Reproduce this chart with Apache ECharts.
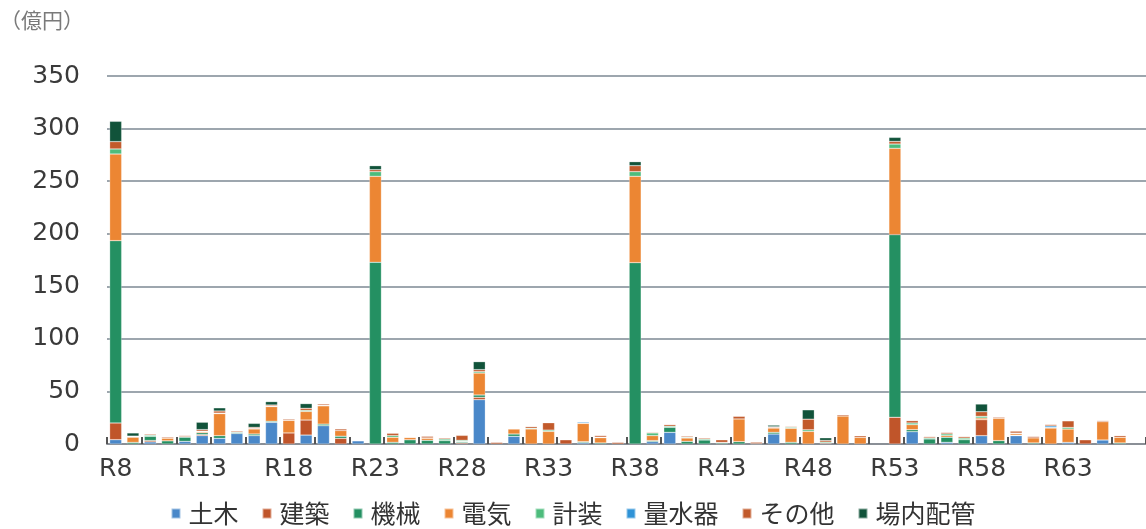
<!DOCTYPE html>
<html>
<head>
<meta charset="utf-8">
<style>
  html, body { margin: 0; padding: 0; background: #fff; }
  #chart { width: 1146px; height: 529px; }
</style>
<script src="https://cdn.jsdelivr.net/npm/echarts@6/dist/echarts.min.js"></script>
</head>
<body>
<div id="chart"></div>
<script>
// categories R8 .. R67
const categories = [];
for (let n = 8; n <= 67; n++) categories.push('R' + n);

const seriesNames = ['土木', '建築', '機械', '電気', '計装', '量水器', 'その他', '場内配管'];
const colors = ['#4a88c9', '#c0552a', '#249062', '#ec8633', '#4dbc7c', '#2f93d7', '#c25a2b', '#11533a'];

// values (億円), one entry per category
const doboku = [4.1,0,2,0,2.5,8,5.4,10,8,20.6, 0,8.5,17.4,0,3,0,0,0,0,0, 0,42.2,0,7.3,0,0,0,1.2,0,0, 0,2.2,11.1,0,0,0,0,0,9.5,0, 0,0,0,0,0,0,11.7,0,1.6,0, 7.9,0,7.9,0,0,1.5,0,3.8,0,0];
const kenchiku = [15.9,0,1.3,0,0,1,0,0,0,0, 10.5,14.3,0,5.4,0,0,0,0,0,0, 1,2.2,0,0,0,0,4,0,0,0, 0,0,0,0,0,0,0,0.3,0,0, 0,0.8,0,0,0,25.4,0,0,0,0, 15.2,0,0.5,0,0,0,4,0,0,0];
const kikai = [173.4,1.5,4,3,4,1.7,2.5,1,1.5,1, 0,0,1.5,2,0,172.8,1.6,4,3.5,3.2, 1,2.2,0,2.2,0,0,0,1,1,0, 172.5,1,4.8,2.5,3.8,1,2.2,0,1.6,1.6, 0,0,0,0,0,173.7,1.9,4.8,4.8,4.1, 0,3.2,0,1,0,0,0,0,1,0];
const denki = [82.4,5,0,2.5,0,1,21,0,4.8,14, 12,8.2,17.4,5.4,0,81.8,4.8,2.2,2,0, 0.5,20.9,0,4.8,14.3,12,0,17.4,5,0, 82.1,4.8,0,3.2,0,0,21.6,0,4.1,13.3, 12,0,26.6,6.3,0,82.1,4.8,0,1.6,0, 1.6,21.2,1.5,4.8,15.2,12.7,0,17.4,5.4,0];
const keiso = [4.8,0.5,1,0,0.5,0.5,0.5,0.5,0.5,0.5, 0.5,1,0.5,0,0,4.4,1.6,0,0.3,1.5, 1,1.3,0,0,0.7,1.2,0,0.5,0.5,0, 4.4,2.5,1,0.7,1,0.5,0,0,0.5,1, 1.5,1,0,0,0,4.1,1.6,1,1.6,1.5, 1.6,0,0.5,0,0.5,1.5,0,0,0,0];
const ryosuiki = [0,0,0,0,0,0,0,0,0,0, 0,0,0,0,0,0,0,0,0,0, 0,0,0,0,0,0,0,1,0,0, 0,0,0,0,0,0,0,0,0,0, 0,0,0,0,0,0,0,0,0,0, 0,0,0,0,1.5,0,0,0,0,0];
const sonota = [7,0.5,1,1,1,1.5,2,1,1,1, 1,2,1.2,1.5,0.5,1.9,2.2,0.3,1.5,1, 4.7,1.9,1.5,0.3,1.5,7,0,0.5,1.5,1.5, 5.7,0.7,1.5,1,1,2.5,2.5,1.4,0.7,0.7, 10.1,1.6,1.2,1.5,0,2.5,2.2,1.2,1.3,1.4, 4.4,1,1.8,1.3,1.3,6.3,0,1,1.5,0];
const jonaiHaikan = [19.3,3,0,0,0,7,3,0,3.8,3.2, 0,4.4,0,0,0,3.8,0,0,0,0, 0,7.6,0,0,0,0,0,0,0,0, 3.8,0,0,0,0,0,0,0,1.5,0, 8.9,2.5,0,0,0,3.8,0,0,0,0, 7.3,0,0,0,0,0,0,0,0,0];

const yTicks = [0, 50, 100, 150, 200, 250, 300, 350];

const allValues = [doboku, kenchiku, kikai, denki, keiso, ryosuiki, sonota, jonaiHaikan];
const jpFont = "'Noto Sans CJK JP', 'Noto Sans', sans-serif";
const numFont = "'DejaVu Sans', 'Noto Sans', sans-serif";

const chart = echarts.init(document.getElementById('chart'));

chart.setOption({
  animation: false,
  color: colors,
  textStyle: { fontFamily: jpFont },
  title: {
    text: '（億円）',
    left: -5,
    top: 5,
    textStyle: { fontSize: 21, fontWeight: 'normal', color: '#7a7a7a', fontFamily: jpFont }
  },
  legend: {
    data: seriesNames,
    bottom: -2,
    left: 'center',
    icon: 'rect',
    itemWidth: 9,
    itemHeight: 10,
    itemGap: 23,
    textStyle: { fontSize: 25, color: '#333', fontFamily: jpFont, padding: [0, 0, 0, 3] }
  },
  grid: { left: 107, right: 0, top: 76, bottom: 85 },
  xAxis: {
    type: 'category',
    data: categories,
    axisLine: { lineStyle: { color: '#8a8f96', width: 2 } },
    axisTick: { show: true, interval: 1, inside: true, length: 7, lineStyle: { color: '#555', width: 2 } },
    axisLabel: { interval: 4, fontSize: 25, color: '#3a3a3a', margin: 13, fontFamily: numFont }
  },
  yAxis: {
    type: 'value',
    min: yTicks[0],
    max: yTicks[yTicks.length - 1],
    interval: 50,
    axisLine: { show: false },
    axisTick: { show: false },
    axisLabel: { fontSize: 25, color: '#3a3a3a', margin: 27, fontFamily: numFont },
    splitLine: { lineStyle: { color: '#7d8893', width: 1.5 } }
  },
  series: seriesNames.map((name, k) => ({
    name: name,
    type: 'bar',
    stack: 'total',
    barWidth: 12,
    itemStyle: { borderColor: 'rgba(255,255,255,0.5)', borderWidth: 0.5 },
    data: allValues[k].map(v => (v === 0 ? null : v))
  }))
});
</script>
</body>
</html>
